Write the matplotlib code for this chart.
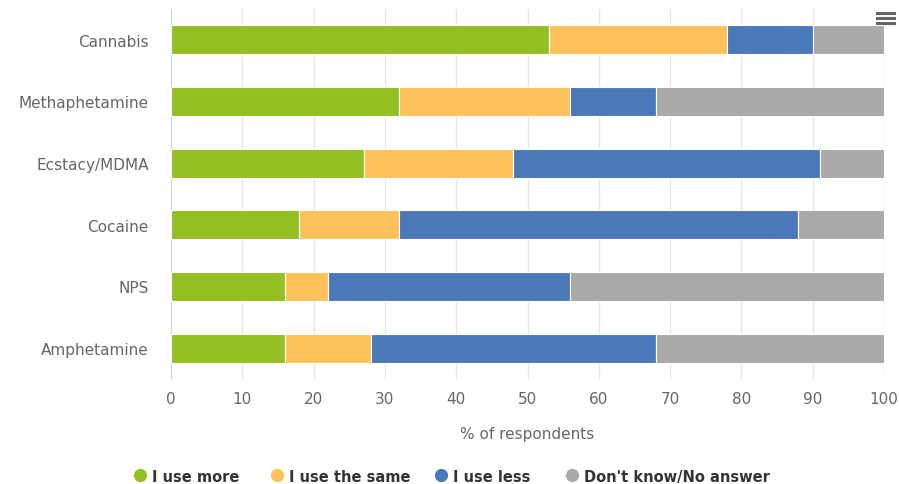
import matplotlib
matplotlib.use("Agg")
import matplotlib.pyplot as plt
from matplotlib.lines import Line2D
import numpy as np

categories = ["Cannabis", "Methaphetamine", "Ecstacy/MDMA", "Cocaine", "NPS", "Amphetamine"]
use_more = [53, 32, 27, 18, 16, 16]
use_same = [25, 24, 21, 14, 6, 12]
use_less = [12, 12, 43, 56, 34, 40]
dont_know = [10, 32, 9, 12, 44, 32]
series_names = ["I use more", "I use the same", "I use less", "Don't know/No answer"]
colors = ["#93bf22", "#fdc35a", "#4a78b9", "#a9a9a9"]
xticks = [0, 10, 20, 30, 40, 50, 60, 70, 80, 90, 100]

W, H = 899, 485
fig = plt.figure(figsize=(W/100, H/100), dpi=100)
x0, x1, ytop, ybot = 171, 884, 10, 380
ax = fig.add_axes([x0/W, 1-ybot/H, (x1-x0)/W, (ybot-ytop)/H])

y = np.arange(len(categories))
left = np.zeros(len(categories))
for vals, col in zip([use_more, use_same, use_less, dont_know], colors):
    ax.barh(y, vals, left=left, height=0.47, color=col, edgecolor="white", linewidth=0.8, zorder=3)
    left += np.array(vals)

ax.set_ylim(len(categories)-0.5, -0.5)
ax.set_xlim(0, 100)
ax.set_xticks(xticks)
ax.set_xticklabels([str(t) for t in xticks])
ax.set_yticks(y)
ax.set_yticklabels(categories)
ax.tick_params(axis="both", length=0, colors="#666666", labelsize=11)
ax.tick_params(axis="x", pad=9)
ax.tick_params(axis="y", pad=16)
ax.grid(axis="x", color="#e6e6e6", linewidth=1, zorder=0)
for s in ["top", "right", "bottom"]:
    ax.spines[s].set_visible(False)
ax.spines["left"].set_color("#ccd6eb")
ax.set_xlabel("% of respondents", color="#666666", fontsize=11, labelpad=14)

# legend drawn manually for aligned baselines
leg_x = [140, 277, 441, 572]
leg_y = 476
for lx, name, col in zip(leg_x, series_names, colors):
    fig.add_artist(Line2D([lx/W], [1-leg_y/H], marker="o", markersize=8.5, linestyle="",
                          markerfacecolor=col, markeredgecolor=col, transform=fig.transFigure))
    fig.text((lx+12)/W, 1-leg_y/H, name, ha="left", va="center_baseline", fontsize=10.5,
             color="#333333", fontweight="semibold")

# menu icon
for yy in [14, 19, 24]:
    fig.add_artist(Line2D([877/W, 894/W], [1-yy/H, 1-yy/H], color="#666666", linewidth=2.2,
                          transform=fig.transFigure))

fig.savefig("out.png", dpi=100)
